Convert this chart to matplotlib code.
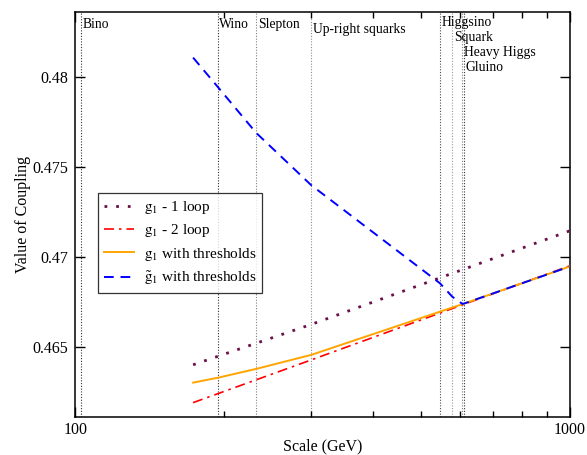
import matplotlib
matplotlib.use("Agg")
import matplotlib.pyplot as plt
from matplotlib.ticker import FixedLocator, NullFormatter
import matplotlib.transforms as mtransforms

plt.rcParams['font.family'] = ['Liberation Serif', 'DejaVu Serif']
plt.rcParams['mathtext.fontset'] = 'stix'

# threshold scales (GeV) and names
thr_mass = [102.6, 194, 232, 300, 547, 579, 607, 612]
thr_name = ["Bino", "Wino", "Slepton", "Up-right squarks", "Higgsino", "Squark", "Heavy Higgs", "Gluino"]

# running couplings
scale_thr = [173, 194, 232, 300, 547, 579, 607, 612, 1000]
g1_thr = [0.46302, 0.46329, 0.46378, 0.46456, 0.46696, 0.46719, 0.46737, 0.46741, 0.46946]
g1t_thr = [0.48106, 0.47944, 0.47689, 0.47398, 0.46853, 0.46779, 0.46739, 0.46741, 0.46946]

scale_loop = [173, 300, 1000]
g1_1loop = [0.46401, 0.46625, 0.47144]
g1_2loop = [0.46191, 0.46428, 0.46950]

fig = plt.figure(figsize=(5.87, 4.55), dpi=100)
ax = fig.add_axes([0.1286, 0.0842, 0.8416, 0.8894])

# vertical threshold lines
shade = ['0.2', '0.2', '0.5', '0.55', '0.3', '0.6', '0.5', '0.2']
for m, c in zip(thr_mass, shade):
    ax.axvline(m, color=c, ls=(0, (1, 1.5)), lw=0.8, zorder=1)

ax.plot(scale_loop, g1_1loop, color='#6b0f4a', ls=(0, (1, 3.2)), lw=2.0,
        dash_capstyle='butt', label=r"$\mathrm{g}_1$ - 1 loop", zorder=3)
ax.plot(scale_loop, g1_2loop, color='#ff0000', ls=(0, (6, 3, 1.5, 3)), lw=1.2,
        label=r"$\mathrm{g}_1$ - 2 loop", zorder=3)
ax.plot(scale_thr, g1_thr, color='#ffa500', lw=1.4,
        label=r"$\mathrm{g}_1$ with thresholds", zorder=4)
ax.plot(scale_thr, g1t_thr, color='#0000ff', ls=(0, (5, 3.5)), lw=1.4,
        label=r"$\tilde{\mathrm{g}}_1$ with thresholds", zorder=5)

ax.set_xscale('log')
ax.set_xlim(100, 1000)
ax.set_ylim(0.46113, 0.48359)

ax.xaxis.set_major_locator(FixedLocator([100, 1000]))
ax.xaxis.set_minor_locator(FixedLocator([200, 300, 400, 500, 600, 700, 800, 900]))
ax.xaxis.set_minor_formatter(NullFormatter())
ax.set_xticklabels(["100", "1000"])
ax.set_yticks([0.465, 0.47, 0.475, 0.48])
ax.set_yticklabels(["0.465", "0.47", "0.475", "0.48"])
ax.tick_params(which='both', direction='in', top=True, right=True, labelsize=11.5, width=1)
ax.tick_params(which='major', length=7)
ax.tick_params(which='minor', length=4)
ax.tick_params(axis='x', pad=4)
ax.tick_params(axis='y', pad=5)
for s in ax.spines.values():
    s.set_linewidth(1.1)

ax.set_xlabel("Scale (GeV)", fontsize=11.5, labelpad=0)
ax.set_ylabel("Value of Coupling", fontsize=11.5, labelpad=1)

# threshold labels
trans = mtransforms.blended_transform_factory(ax.transData, ax.transAxes)
lab_y = [0.984, 0.984, 0.984, 0.974, 0.991, 0.954, 0.917, 0.878]
for m, name, yy in zip(thr_mass, thr_name, lab_y):
    ax.text(m * 1.008, yy, name, transform=trans, fontsize=9.8, va='top', ha='left')

leg = ax.legend(loc='upper left', bbox_to_anchor=(0.045, 0.553), borderaxespad=0,
                fontsize=11, frameon=True, fancybox=False, handlelength=2.0,
                handletextpad=0.6, labelspacing=0.42, borderpad=0.4)
leg.get_frame().set_edgecolor('black')
leg.get_frame().set_linewidth(0.9)

fig.savefig("out.png", dpi=100)
